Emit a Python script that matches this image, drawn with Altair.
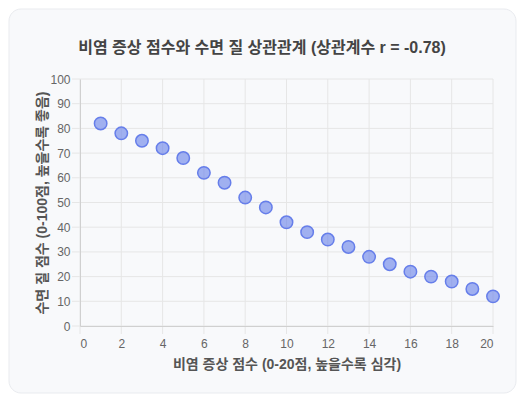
import altair as alt
import pandas as pd

symptom = list(range(1, 21))
sleep = [82, 78, 75, 72, 68, 62, 58, 52, 48, 42, 38, 35, 32, 28, 25, 22, 20, 18, 15, 12]
x_ticks = list(range(0, 21, 2))
y_ticks = list(range(0, 101, 10))

df = pd.DataFrame({"symptom": symptom, "sleep": sleep})

FONT = "Liberation Sans, Noto Sans CJK KR, sans-serif"
GRID = "#e6e6e6"
X_TITLE = "비염 증상 점수 (0-20점, 높을수록 심각)"
Y_TITLE = "수면 질 점수 (0-100점, 높을수록 좋음)"

x_scale = alt.Scale(domain=[0, 20], nice=False)
y_scale = alt.Scale(domain=[0, 100], nice=False)
x_axis = alt.Axis(values=x_ticks, titlePadding=8, grid=False, ticks=False, labelPadding=12,
                  labelOverlap=False, zindex=1)
y_axis = alt.Axis(values=y_ticks, titlePadding=0, grid=False, ticks=False, labelPadding=10,
                  labelOverlap=False, zindex=1)

# rounded card behind the plot
card = alt.Chart(pd.DataFrame({"k": [0]})).mark_rect(
    fill="#f8f9fb", stroke="#e9ebef", strokeWidth=1, cornerRadius=12
).encode(
    x=alt.value(-71), x2=alt.value(436), y=alt.value(-70), y2=alt.value(314)
)

title = alt.Chart(pd.DataFrame({"t": ["비염 증상 점수와 수면 질 상관관계 (상관계수 r = -0.78)"]})).mark_text(
    font=FONT, fontSize=16, fontWeight="bold", color="#444444", baseline="middle", align="center"
).encode(
    text="t:N", x=alt.value(182), y=alt.value(-31)
)

vgrid = alt.Chart(pd.DataFrame({"v": x_ticks})).mark_rule(color=GRID, strokeWidth=1).encode(
    x=alt.X("v:Q", scale=x_scale, axis=x_axis, title=X_TITLE), y=alt.value(0), y2=alt.value(255)
)
hgrid = alt.Chart(pd.DataFrame({"v": y_ticks})).mark_rule(color=GRID, strokeWidth=1).encode(
    y=alt.Y("v:Q", scale=y_scale, axis=y_axis, title=Y_TITLE), x=alt.value(-8), x2=alt.value(413)
)

points = alt.Chart(df).mark_circle(
    size=155, color="#667eea", fillOpacity=0.6, stroke="#667eea", strokeWidth=1.5, opacity=1
).encode(
    x=alt.X("symptom:Q", title=X_TITLE, scale=x_scale, axis=x_axis),
    y=alt.Y("sleep:Q", title=Y_TITLE, scale=y_scale, axis=y_axis),
)

chart = alt.layer(card, title, vgrid, hgrid, points).properties(
    width=413,
    height=247,
    autosize=alt.AutoSizeParams(type="none"),
    padding={"left": 72, "top": 71, "right": 25, "bottom": 68},
    background="white",
).configure_axis(
    labelFont=FONT,
    labelFontSize=12,
    labelColor="#666666",
    titleFont=FONT,
    titleFontSize=14,
    titleFontWeight="bold",
    titleColor="#555555",
    domainColor="#d0d0d0",
).configure_view(
    strokeWidth=0
)

chart.save("out.html", embed_options={"renderer": "svg", "actions": False})
